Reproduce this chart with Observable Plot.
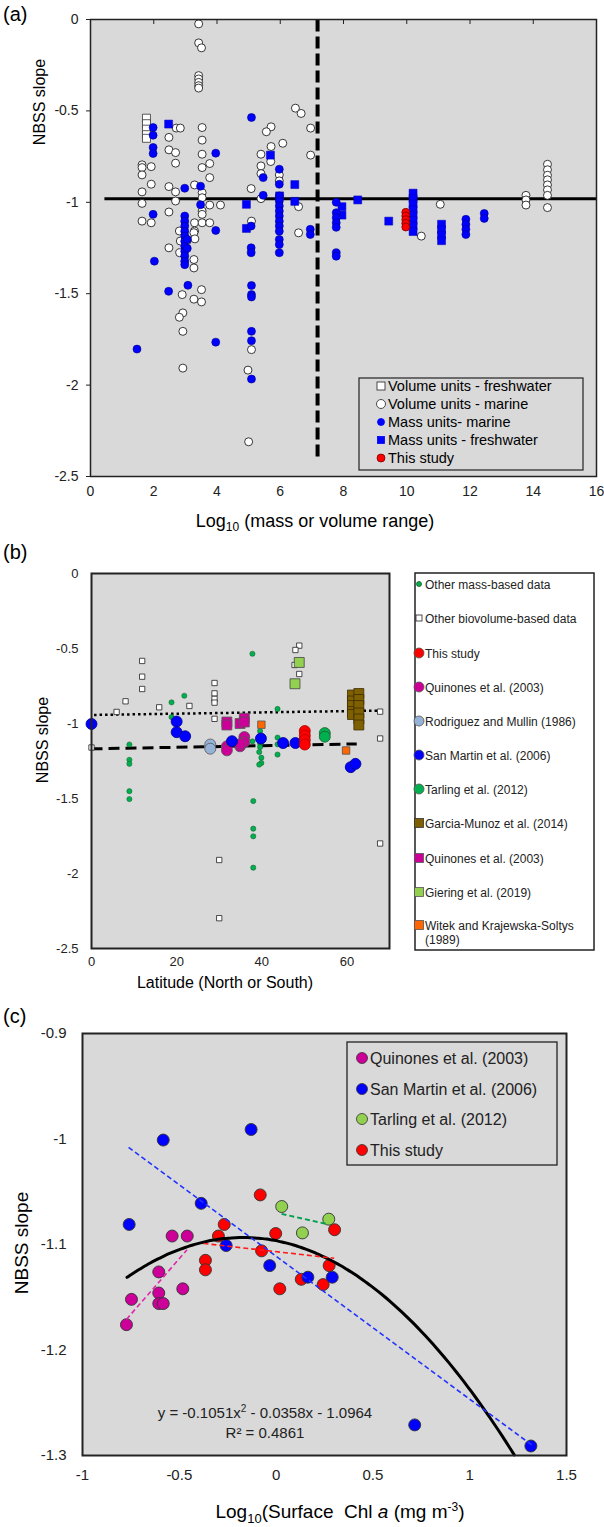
<!DOCTYPE html>
<html><head><meta charset="utf-8">
<script src="https://cdn.jsdelivr.net/npm/d3@7"></script>
<script src="https://cdn.jsdelivr.net/npm/@observablehq/plot@0.6"></script>
<style>
body{margin:0;background:#fff;}
#wrap{position:relative;width:604px;height:1527px;overflow:hidden;}
#wrap svg{position:absolute;left:0;}
</style></head><body><div id="wrap"></div>
<script>
// ---------- Panel (a) data: [log10 range, NBSS slope] ----------
const volFreshA = [[1.77,-0.54],[1.77,-0.57],[1.77,-0.60],[1.77,-0.63],[1.77,-0.65]];
const volMarineA = [
 [3.42,-0.024],[3.42,-0.128],[3.51,-0.155],[3.42,-0.307],[3.42,-0.325],[3.42,-0.344],[3.42,-0.362],[3.42,-0.375],
 [6.48,-0.485],[6.66,-0.514],[6.96,-0.594],[6.96,-0.742],
 [5.71,-0.587],[5.56,-0.614],[5.71,-0.695],[6.08,-0.677],[5.39,-0.737],[5.39,-0.801],[5.39,-0.843],[5.97,-0.85],
 [5.97,-0.883],[5.70,-0.777],[5.08,-0.925],[5.39,-0.98],[6.58,-1.024],[6.58,-1.167],[5.09,-1.103],
 [2.71,-0.594],[2.84,-0.594],[2.48,-0.645],[2.48,-0.713],[2.69,-0.728],[2.69,-0.786],[2.48,-0.914],[2.69,-0.943],
 [3.53,-0.591],[3.53,-0.660],[3.53,-0.737],[3.53,-0.81],[3.77,-0.788],[3.77,-0.865],[3.29,-0.905],[3.53,-0.947],
 [3.53,-0.975],[3.77,-1.015],[4.11,-1.015],[3.53,-1.048],[3.53,-1.066],[3.29,-1.112],[3.53,-1.112],[3.77,-1.112],[3.29,-1.157],
 [1.63,-0.795],[1.63,-0.81],[1.92,-0.805],[1.63,-0.85],[1.92,-0.901],[1.63,-0.943],[1.63,-1.006],[1.63,-1.103],
 [1.92,-1.112],[2.48,-1.053],[2.69,-0.993],[2.81,-1.157],[2.48,-1.249],
 [3.06,-1.209],[2.84,-1.212],[3.27,-1.166],[3.30,-1.20],[3.27,-1.313],[3.27,-1.359],[2.82,-1.276],
 [2.90,-1.505],[3.27,-1.53],[3.51,-1.478],[3.51,-1.545],[2.92,-1.605],[2.81,-1.629],[2.92,-1.706],[2.92,-1.907],
 [5.09,-1.806],[4.98,-1.918],[5.0,-2.31],
 [11.06,-1.011],[10.46,-1.185],[13.77,-0.962],[13.77,-0.987],[13.77,-1.015],
 [14.45,-0.792],[14.45,-0.822],[14.45,-0.852],[14.45,-0.877],[14.45,-0.905],[14.45,-0.932],[14.45,-0.962],[14.45,-1.029]
];
const massMarineA = [
 [1.98,-0.591],[1.98,-0.633],[1.98,-0.700],[1.98,-0.733],[1.98,-1.066],[2.02,-1.322],[1.47,-1.803],
 [2.98,-0.923],[2.47,-1.487],[3.08,-1.454],
 [2.98,-1.075],[2.98,-1.103],[2.98,-1.130],[2.98,-1.158],[2.98,-1.185],[2.98,-1.213],[2.98,-1.240],[2.98,-1.268],
 [2.98,-1.295],[2.98,-1.322],[2.98,-1.341],[3.06,-1.203],[3.06,-1.252],
 [3.48,-0.912],[3.48,-1.013],[3.96,-0.731],[3.96,-1.154],[3.96,-1.765],
 [5.09,-0.536],[5.46,-0.865],[5.46,-0.962],[5.08,-1.130],[5.08,-1.249],[5.08,-1.276],[5.09,-1.455],[5.09,-1.505],
 [5.09,-1.518],[5.09,-1.706],[5.09,-1.757],[5.09,-1.967],
 [5.97,-0.819],[5.97,-0.901],[5.97,-0.965],[5.97,-0.993],[5.97,-1.02],[5.97,-1.048],[5.97,-1.075],[5.97,-1.103],
 [5.97,-1.130],[5.97,-1.158],[5.97,-1.203],[5.97,-1.231],[5.97,-1.276],
 [6.95,-1.148],[6.95,-1.176],
 [7.77,-1.0],[7.77,-1.057],[7.77,-1.084],[7.77,-1.112],[7.77,-1.137],[7.77,-1.276],[7.77,-1.295],
 [11.87,-1.093],[11.87,-1.121],[11.87,-1.148],[11.87,-1.176],[12.45,-1.061],[12.45,-1.088]
];
const massFreshA = [
 [2.47,-0.572],[5.69,-0.742],[6.46,-0.903],[6.46,-0.995],[5.98,-0.965],[4.93,-1.011],[4.93,-1.143],
 [7.95,-1.024],[7.95,-1.07],[8.45,-0.987],[9.43,-1.103],
 [10.2,-0.95],[10.2,-0.98],[10.2,-1.01],[10.2,-1.04],[10.2,-1.07],[10.2,-1.10],[10.2,-1.13],[10.2,-1.16],
 [11.1,-1.12],[11.1,-1.15],[11.1,-1.18],[11.1,-1.21]
];
const thisStudyA = [[9.97,-1.055],[9.97,-1.075],[9.97,-1.095],[9.97,-1.115],[9.97,-1.135]];
const hLineA = [[0.44,-0.98],[16,-0.98]];
const vLineA = [[7.18,0],[7.18,-2.4]];
const xTicksA = [0,2,4,6,8,10,12,14,16];
const yTicksA = [0,-0.5,-1,-1.5,-2,-2.5];
const legendA = ["Volume units - freshwater","Volume units - marine","Mass units- marine","Mass units - freshwater","This study"];

// ---------- Panel (b) data: [latitude, NBSS slope] ----------
const otherVolB = [[0,-1.16],[5.9,-0.923],[8.0,-0.852],[11.9,-0.583],[11.9,-0.688],[11.9,-0.77],[15.9,-0.892],[23.0,-0.883],
 [28.9,-0.73],[28.9,-0.799],[28.9,-0.836],[28.9,-0.861],[28.9,-0.969],[30.0,-1.91],[30.0,-2.298],
 [48.8,-0.481],[47.9,-0.51],[47.7,-0.61],[48.8,-0.67],[67.8,-0.921],[67.8,-1.10],[67.8,-1.80]];
const otherMassB = [[8.9,-1.14],[8.9,-1.242],[8.9,-1.269],[8.9,-1.451],[8.9,-1.504],[18.8,-0.859],[21.8,-0.815],[18.8,-0.957],
 [37.8,-0.535],[37.8,-1.119],[38,-1.517],[38,-1.701],[38,-1.752],[38,-1.961],[39.6,-1.05],[39.4,-1.09],[39.6,-1.134],
 [39.6,-1.157],[39.4,-1.19],[39.9,-1.228],[39.9,-1.263],[39.4,-1.274],[43.7,-0.903],[43.7,-1.094],[43.7,-1.139],[43.7,-1.207]];
const thisStudyB = [[50.1,-1.05],[50.1,-1.08],[50.1,-1.11],[50.1,-1.14]];
const quinonesCircB = [[35.9,-1.09],[34.9,-1.152],[35.9,-1.123],[31.8,-1.152],[31.8,-1.179],[35.0,-1.136]];
const rodriguezB = [[27.9,-1.14],[27.9,-1.168]];
const sanMartinB = [[0,-1.003],[20,-0.987],[20,-1.058],[22,-1.085],[33,-1.118],[39.8,-1.1],[45,-1.13],[47.9,-1.13],[60.9,-1.291],[62,-1.269]];
const tarlingB = [[54.8,-1.064],[54.8,-1.088]];
const garciaB = [[61.3,-0.81],[61.3,-0.85],[61.3,-0.88],[61.3,-0.92],[61.3,-0.94],[62.8,-0.80],[62.8,-0.84],[62.8,-0.88],[62.8,-0.93],[62.8,-0.97],[62.8,-1.01]];
const quinonesSqB = [[31.8,-0.99],[31.8,-1.01],[34.9,-1.0],[35.9,-0.965],[35.9,-0.99]];
const gieringB = [[48.8,-0.593],[47.8,-0.735]];
const witekB = [[39.9,-1.008],[59.8,-1.18]];
const dottedB = [[0.6,-0.943],[67.8,-0.914]];
const dashedB = [[0,-1.169],[62.3,-1.136]];
const xTicksB = [0,20,40,60];
const yTicksB = [0,-0.5,-1,-1.5,-2,-2.5];
const legendB = ["Other mass-based data","Other biovolume-based data","This study","Quinones et al. (2003)","Rodriguez and Mullin (1986)",
 "San Martin et al. (2006)","Tarling et al. (2012)","Garcia-Munoz et al. (2014)","Quinones et al. (2003)","Giering et al. (2019)","Witek and Krajewska-Soltys"];

// ---------- Panel (c) data: [log10 surface Chl a, NBSS slope] ----------
const quinonesC = [[-0.537,-1.092],[-0.459,-1.092],[-0.606,-1.126],[-0.747,-1.152],[-0.606,-1.146],[-0.606,-1.156],[-0.583,-1.156],[-0.482,-1.142],[-0.773,-1.176]];
const sanMartinC = [[-0.583,-1.001],[-0.129,-0.991],[-0.387,-1.061],[-0.759,-1.081],[-0.258,-1.101],[-0.033,-1.120],[0.164,-1.131],[0.290,-1.131],[0.716,-1.271],[1.316,-1.291]];
const tarlingC = [[0.029,-1.064],[0.272,-1.076],[0.136,-1.089]];
const thisStudyC = [[-0.082,-1.053],[-0.268,-1.081],[-0.002,-1.0896],[0.302,-1.086],[-0.298,-1.092],[-0.075,-1.106],[-0.365,-1.115],[-0.365,-1.124],[0.130,-1.133],[0.274,-1.120],[0.243,-1.138],[0.019,-1.142]];
const trendBlueC = [[-0.762,-1.008],[1.32,-1.29]];
const trendRedC = [[-0.375,-1.099],[0.30,-1.113]];
const trendMagentaC = [[-0.773,-1.171],[-0.46,-1.105]];
const trendGreenC = [[0.028,-1.071],[0.271,-1.081]];
const polyC = {a:-0.1051, b:-0.0358, c:-1.0964, r2:0.4861, xmin:-0.77, xmax:1.23};
const xTicksC = [-1,-0.5,0,0.5,1,1.5];
const yTicksC = [-0.9,-1,-1.1,-1.2,-1.3];
const legendC = ["Quinones et al. (2003)","San Martin et al. (2006)","Tarling et al. (2012)","This study"];

// ---------- drawing ----------
const FONT = '"Liberation Sans", Arial, Helvetica, sans-serif';
const BG = "#d9d9d9";
const C = {blue:"#0000ff", red:"#ff0000", mag:"#cc0099", lblue:"#95b3d7", green:"#00b050", lgreen:"#92d050", brown:"#7f6000", orange:"#ff6600"};
const xy = {x: d => d[0], y: d => d[1]};
const fmt = d => String(d);
const wrap = document.getElementById("wrap");

function txt(sel, x, y, parts, o = {}) {
  const t = sel.append("text").attr("x", x).attr("y", y)
    .attr("font-family", FONT).attr("font-size", o.size || 14)
    .attr("text-anchor", o.anchor || "start").attr("fill", o.fill || "#000");
  if (o.rotate) t.attr("transform", `rotate(${o.rotate},${x},${y})`);
  for (const p of parts) {
    if (typeof p === "string") t.append("tspan").text(p);
    else {
      const s = t.append("tspan").text(p.t);
      if (p.size) s.attr("font-size", p.size);
      if (p.dy) s.attr("dy", p.dy);
      if (p.italic) s.attr("font-style", "italic");
    }
  }
  return t;
}
function marker(sel, kind, x, y, size, fill, stroke) {
  if (kind === "circle") sel.append("circle").attr("cx", x).attr("cy", y).attr("r", size).attr("fill", fill).attr("stroke", stroke).attr("stroke-width", 0.8);
  else sel.append("rect").attr("x", x - size/2).attr("y", y - size/2).attr("width", size).attr("height", size).attr("fill", fill).attr("stroke", stroke).attr("stroke-width", 0.8);
}

// Panel (a)
const plotA = Plot.plot({
  width: 604, height: 530, marginTop: 19, marginBottom: 54, marginLeft: 90, marginRight: 8,
  style: {fontFamily: FONT, fontSize: "14px", color: "#222", background: "transparent", overflow: "visible"},
  x: {domain: [0, 16]}, y: {domain: [-2.5, 0]},
  marks: [
    Plot.frame({fill: BG, stroke: null}),
    Plot.axisX({ticks: xTicksA, tickSize: 0, tickPadding: 10, tickFormat: fmt, label: null}),
    Plot.axisX({anchor: "top", ticks: xTicksA.slice(1, -1), tickSize: -4, tickFormat: () => "", label: null}),
    Plot.axisY({ticks: yTicksA, tickSize: 4, tickPadding: 8, tickFormat: fmt, label: null}),
    Plot.line(hLineA, {...xy, stroke: "#000", strokeWidth: 3, strokeLinecap: "butt"}),
    Plot.line(vLineA, {...xy, stroke: "#000", strokeWidth: 4, strokeDasharray: "12,5", strokeLinecap: "butt"}),
    Plot.dot(volFreshA, {...xy, symbol: "square", r: 4.5, fill: "#fff", stroke: "#333", strokeWidth: 0.8}),
    Plot.dot(volMarineA, {...xy, r: 4, fill: "#fff", stroke: "#222", strokeWidth: 0.9}),
    Plot.dot(massFreshA, {...xy, symbol: "square", r: 4.5, fill: C.blue, stroke: "#0000b0", strokeWidth: 0.5}),
    Plot.dot(massMarineA, {...xy, r: 4, fill: C.blue, stroke: "#00008b", strokeWidth: 0.6}),
    Plot.dot(thisStudyA, {...xy, r: 4, fill: C.red, stroke: "#7a0000", strokeWidth: 0.8}),
    Plot.frame({stroke: "#222", strokeWidth: 1.5})
  ]
});
plotA.style.top = "0px";
wrap.appendChild(plotA);
{
  const s = d3.select(plotA);
  txt(s, 3, 21, ["(a)"], {size: 20});
  txt(s, 45, 102, ["NBSS slope"], {size: 16, anchor: "middle", rotate: -90});
  txt(s, 315, 527, ["Log", {t: "10", size: 12, dy: 4}, {t: " (mass or volume range)", dy: -4}], {size: 18, anchor: "middle"});
  s.append("rect").attr("x", 359).attr("y", 378).attr("width", 224).attr("height", 92).attr("fill", BG).attr("stroke", "#222").attr("stroke-width", 1.2);
  const ys = [386, 404, 422, 440, 458];
  const mk = [["rect", 8, "#fff", "#222"], ["circle", 4.5, "#fff", "#222"], ["circle", 3.5, C.blue, C.blue], ["rect", 7, C.blue, C.blue], ["circle", 4, C.red, "#7a0000"]];
  legendA.forEach((l, i) => {
    marker(s, mk[i][0], 381, ys[i], mk[i][1], mk[i][2], mk[i][3]);
    txt(s, 388, ys[i] + 5, [l], {size: 14.5});
  });
}

// Panel (b)
const plotB = Plot.plot({
  width: 604, height: 470, marginTop: 43, marginBottom: 52, marginLeft: 91, marginRight: 215,
  style: {fontFamily: FONT, fontSize: "13px", color: "#222", background: "transparent", overflow: "visible"},
  x: {domain: [0, 70]}, y: {domain: [-2.5, 0]},
  marks: [
    Plot.frame({fill: BG, stroke: null}),
    Plot.axisX({ticks: xTicksB, tickSize: 0, tickPadding: 8, tickFormat: fmt, label: null}),
    Plot.axisY({ticks: yTicksB, tickSize: 0, tickPadding: 13, tickFormat: fmt, label: null}),
    Plot.line(dottedB, {...xy, stroke: "#000", strokeWidth: 2.5, strokeDasharray: "2.5,3", strokeLinecap: "butt"}),
    Plot.line(dashedB, {...xy, stroke: "#000", strokeWidth: 3, strokeDasharray: "11,6", strokeLinecap: "butt"}),
    Plot.dot(otherVolB, {...xy, symbol: "square", r: 3, fill: "#fff", stroke: "#222", strokeWidth: 0.8}),
    Plot.dot(otherMassB, {...xy, r: 2.6, fill: C.green, stroke: "#1a5c2a", strokeWidth: 0.5}),
    Plot.dot(rodriguezB, {...xy, r: 5.5, fill: C.lblue, stroke: "#555", strokeWidth: 0.8}),
    Plot.dot(quinonesCircB, {...xy, r: 5.5, fill: C.mag, stroke: "#555", strokeWidth: 0.8}),
    Plot.dot(sanMartinB, {...xy, r: 5.5, fill: C.blue, stroke: "#00008b", strokeWidth: 0.8}),
    Plot.dot(tarlingB, {...xy, r: 5.5, fill: C.green, stroke: "#1a5c2a", strokeWidth: 0.8}),
    Plot.dot(thisStudyB, {...xy, r: 5.5, fill: C.red, stroke: "#a00", strokeWidth: 0.8}),
    Plot.dot(garciaB, {...xy, symbol: "square", r: 5.6, fill: C.brown, stroke: "#3d2e00", strokeWidth: 0.8}),
    Plot.dot(quinonesSqB, {...xy, symbol: "square", r: 5.6, fill: C.mag, stroke: "#555", strokeWidth: 0.8}),
    Plot.dot(gieringB, {...xy, symbol: "square", r: 5.6, fill: C.lgreen, stroke: "#444", strokeWidth: 0.8}),
    Plot.dot(witekB, {...xy, symbol: "square", r: 4.2, fill: C.orange, stroke: "#555", strokeWidth: 0.8}),
    Plot.frame({stroke: "#222", strokeWidth: 2})
  ]
});
plotB.style.top = "530px";
wrap.appendChild(plotB);
{
  const s = d3.select(plotB);
  txt(s, 3, 29, ["(b)"], {size: 20});
  txt(s, 48, 210, ["NBSS slope"], {size: 16, anchor: "middle", rotate: -90});
  txt(s, 225, 458, ["Latitude (North or South)"], {size: 16, anchor: "middle"});
  s.append("rect").attr("x", 415).attr("y", 43).attr("width", 179).attr("height", 377).attr("fill", "#fff").attr("stroke", "#222").attr("stroke-width", 1.5);
  const ys = [54, 88, 123, 157, 191, 225, 259, 293, 328, 362, 395];
  const mk = [["circle", 2.5, C.green, "#1a5c2a"], ["rect", 6, "#fff", "#222"], ["circle", 5, C.red, "#555"], ["circle", 5, C.mag, "#555"],
    ["circle", 5, C.lblue, "#555"], ["circle", 5, C.blue, "#555"], ["circle", 5, C.green, "#555"], ["rect", 9, C.brown, "#333"],
    ["rect", 9, C.mag, "#555"], ["rect", 9, C.lgreen, "#555"], ["rect", 9, C.orange, "#555"]];
  legendB.forEach((l, i) => {
    marker(s, mk[i][0], 419, ys[i], mk[i][1], mk[i][2], mk[i][3]);
    txt(s, 425, ys[i] + 4.5, [l], {size: 12, fill: "#222"});
  });
  txt(s, 425, 414, ["(1989)"], {size: 12, fill: "#222"});
}

// Panel (c)
const curveC = d3.range(polyC.xmin, polyC.xmax + 1e-9, 0.02).map(x => [x, polyC.a * x * x + polyC.b * x + polyC.c]);
const plotC = Plot.plot({
  width: 604, height: 527, marginTop: 33, marginBottom: 72, marginLeft: 82, marginRight: 38,
  style: {fontFamily: FONT, fontSize: "15px", color: "#222", background: "transparent", overflow: "visible"},
  x: {domain: [-1, 1.5]}, y: {domain: [-1.3, -0.9]},
  marks: [
    Plot.frame({fill: BG, stroke: null}),
    Plot.axisX({ticks: xTicksC, tickSize: 0, tickPadding: 14, tickFormat: fmt, label: null}),
    Plot.axisY({ticks: yTicksC, tickSize: 0, tickPadding: 16, tickFormat: fmt, label: null}),
    Plot.dot(quinonesC, {...xy, r: 6, fill: C.mag, stroke: "#333", strokeWidth: 0.9}),
    Plot.dot(thisStudyC, {...xy, r: 6, fill: C.red, stroke: "#333", strokeWidth: 0.9}),
    Plot.dot(sanMartinC, {...xy, r: 6, fill: C.blue, stroke: "#333", strokeWidth: 0.9}),
    Plot.dot(tarlingC, {...xy, r: 6, fill: C.lgreen, stroke: "#333", strokeWidth: 0.9}),
    Plot.line(curveC, {...xy, stroke: "#000", strokeWidth: 3, curve: "basis"}),
    Plot.line(trendBlueC, {...xy, stroke: "#2233ff", strokeWidth: 1.6, strokeDasharray: "5,3", strokeLinecap: "butt"}),
    Plot.line(trendRedC, {...xy, stroke: "#ff1a1a", strokeWidth: 1.6, strokeDasharray: "5,3", strokeLinecap: "butt"}),
    Plot.line(trendMagentaC, {...xy, stroke: "#e026a8", strokeWidth: 1.6, strokeDasharray: "5,3", strokeLinecap: "butt"}),
    Plot.line(trendGreenC, {...xy, stroke: "#00a050", strokeWidth: 1.8, strokeDasharray: "5,3", strokeLinecap: "butt"}),
    Plot.frame({stroke: "#222", strokeWidth: 2})
  ]
});
plotC.style.top = "1000px";
wrap.appendChild(plotC);
{
  const s = d3.select(plotC);
  txt(s, 3, 23, ["(c)"], {size: 20});
  txt(s, 28, 243, ["NBSS slope"], {size: 19, anchor: "middle", rotate: -90});
  txt(s, 340, 518, ["Log", {t: "10", size: 13, dy: 5}, {t: "(Surface  Chl ", dy: -5}, {t: "a", italic: true}, " (mg m", {t: "-3", size: 12, dy: -7}, {t: ")", dy: 7}], {size: 19, anchor: "middle"});
  txt(s, 265, 418, ["y = " + polyC.a + "x", {t: "2", size: 10, dy: -6}, {t: " - " + Math.abs(polyC.b) + "x - " + Math.abs(polyC.c), dy: 6}], {size: 15, anchor: "middle", fill: "#222"});
  txt(s, 265, 438, ["R² = " + polyC.r2], {size: 15, anchor: "middle", fill: "#222"});
  s.append("rect").attr("x", 347).attr("y", 42).attr("width", 210).attr("height", 123).attr("fill", BG).attr("stroke", "#222").attr("stroke-width", 1.3);
  const ys = [58, 89, 119, 150];
  const cols = [C.mag, C.blue, C.lgreen, C.red];
  legendC.forEach((l, i) => {
    marker(s, "circle", 362, ys[i], 5.5, cols[i], "#333");
    txt(s, 370, ys[i] + 6, [l], {size: 16, fill: "#222"});
  });
}
</script></body></html>
